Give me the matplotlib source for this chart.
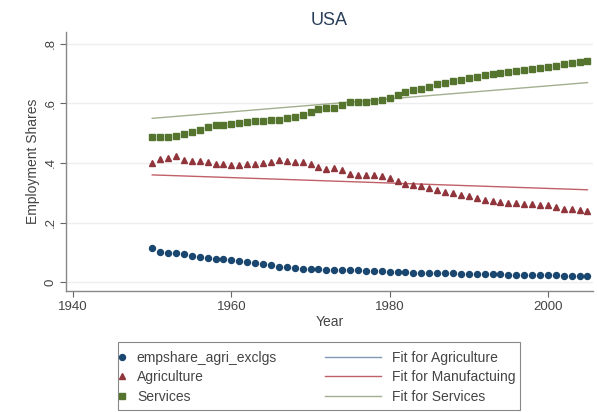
import matplotlib
matplotlib.use("Agg")
import matplotlib.pyplot as plt
from matplotlib.lines import Line2D
from matplotlib.patches import Rectangle

plt.rcParams['font.family'] = ['Liberation Sans', 'DejaVu Sans']

years = list(range(1950, 2006))

empshare_agri = [0.114, 0.101, 0.098, 0.096, 0.093, 0.089, 0.085, 0.082, 0.079, 0.076,
                 0.074, 0.071, 0.068, 0.064, 0.060, 0.056, 0.052, 0.049, 0.047, 0.045,
                 0.044, 0.043, 0.042, 0.041, 0.041, 0.040, 0.039, 0.038, 0.037, 0.036,
                 0.035, 0.034, 0.033, 0.032, 0.031, 0.030, 0.030, 0.029, 0.029, 0.028,
                 0.028, 0.027, 0.027, 0.026, 0.026, 0.025, 0.025, 0.024, 0.024, 0.024,
                 0.023, 0.023, 0.022, 0.022, 0.022, 0.022]

agriculture = [0.400, 0.412, 0.418, 0.425, 0.410, 0.408, 0.408, 0.405, 0.395, 0.398,
               0.394, 0.393, 0.396, 0.398, 0.400, 0.403, 0.410, 0.408, 0.404, 0.405,
               0.398, 0.385, 0.380, 0.383, 0.378, 0.362, 0.360, 0.359, 0.360, 0.357,
               0.350, 0.340, 0.330, 0.325, 0.322, 0.315, 0.308, 0.303, 0.299, 0.294,
               0.289, 0.282, 0.277, 0.272, 0.270, 0.267, 0.265, 0.263, 0.262, 0.260,
               0.258, 0.252, 0.247, 0.244, 0.242, 0.240]

services = [0.487, 0.486, 0.488, 0.490, 0.498, 0.503, 0.510, 0.520, 0.527, 0.528,
            0.532, 0.536, 0.538, 0.540, 0.542, 0.545, 0.546, 0.550, 0.555, 0.560,
            0.570, 0.582, 0.585, 0.586, 0.595, 0.605, 0.605, 0.606, 0.607, 0.610,
            0.617, 0.627, 0.638, 0.645, 0.650, 0.656, 0.664, 0.670, 0.675, 0.680,
            0.685, 0.690, 0.695, 0.699, 0.701, 0.705, 0.708, 0.711, 0.715, 0.718,
            0.721, 0.726, 0.731, 0.735, 0.739, 0.741]

fit_years = [1950, 2005]
fit_manuf = [0.360, 0.310]
fit_serv = [0.550, 0.670]

xticks = [1940, 1960, 1980, 2000]
yticks = [0, 0.2, 0.4, 0.6, 0.8]
ytick_labels = ['0', '.2', '.4', '.6', '.8']

c_blue = '#1a476f'
c_red = '#90353b'
c_green = '#55752f'
c_fitA = '#7f9bb5'
c_fitM = '#c06068'
c_fitS = '#a3b08f'

fig = plt.figure(figsize=(5.97, 4.12), dpi=100)
ax = fig.add_axes([66/597, 121/412, 527/597, 259/412])

ax.plot(fit_years, fit_manuf, color=c_fitM, lw=1.0, zorder=2)
ax.plot(fit_years, fit_serv, color=c_fitS, lw=1.0, zorder=2)

ax.plot(years, empshare_agri, ls='none', marker='o', ms=4.3, color=c_blue, zorder=3)
ax.plot(years, agriculture, ls='none', marker='^', ms=4.8, color=c_red, zorder=3)
ax.plot(years, services, ls='none', marker='s', ms=4.8, color=c_green, zorder=3)

ax.set_xlim(1939.1, 2005.7)
ax.set_ylim(-0.03, 0.84)
ax.set_xticks(xticks)
ax.set_yticks(yticks)
ax.set_yticklabels(ytick_labels, rotation=90, va='center')
ax.tick_params(axis='both', labelsize=9.5, colors='#666666', length=4, width=0.8,
               labelcolor='#444444', pad=3)
for s in ['top', 'right']:
    ax.spines[s].set_visible(False)
for s in ['left', 'bottom']:
    ax.spines[s].set_color('#888888')
    ax.spines[s].set_linewidth(1.0)
ax.grid(axis='y', color='#eeeeee', lw=1.0)
ax.set_axisbelow(True)

ax.set_xlabel('Year', fontsize=10, color='#444444', labelpad=2)
ax.set_ylabel('Employment Shares', fontsize=10, color='#444444', labelpad=3)
ax.set_title('USA', fontsize=13, color='#2a3f5a', pad=5)

# legend frame
fig.patches.append(Rectangle((118/597, 2/412), 402/597, 68/412, transform=fig.transFigure,
                             fill=False, edgecolor='#888888', lw=0.8))

h1 = [Line2D([], [], ls='none', marker='o', ms=4.3, color=c_blue),
      Line2D([], [], ls='none', marker='^', ms=4.8, color=c_red),
      Line2D([], [], ls='none', marker='s', ms=4.8, color=c_green)]
l1 = ['empshare_agri_exclgs', 'Agriculture', 'Services']
h2 = [Line2D([], [], color=c_fitA, lw=1.0),
      Line2D([], [], color=c_fitM, lw=1.0),
      Line2D([], [], color=c_fitS, lw=1.0)]
l2 = ['Fit for Agriculture', 'Fit for Manufactuing', 'Fit for Services']

leg1 = fig.legend(h1, l1, loc='upper left', bbox_to_anchor=(116/597, 1 - 351/412),
                  frameon=False, fontsize=10, handlelength=0.8, handletextpad=0.7,
                  labelspacing=0.38, borderaxespad=0, borderpad=0)
leg2 = fig.legend(h2, l2, loc='upper left', bbox_to_anchor=(325/597, 1 - 351/412),
                  frameon=False, fontsize=10, handlelength=4.0, handletextpad=0.8,
                  labelspacing=0.38, borderaxespad=0, borderpad=0)
for t in leg1.get_texts() + leg2.get_texts():
    t.set_color('#444444')

fig.savefig('out.png', dpi=100, facecolor='white')
